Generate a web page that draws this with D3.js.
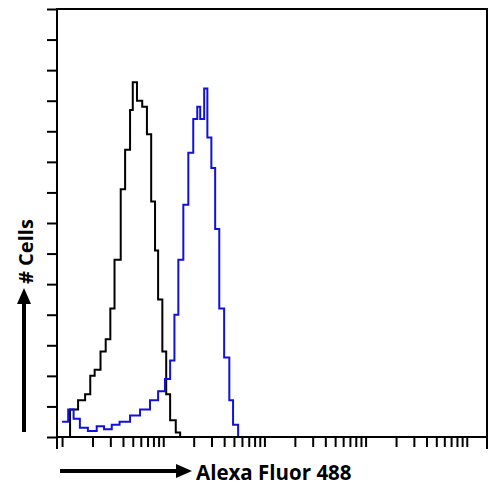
<!DOCTYPE html><html><head><meta charset="utf-8">
<script src="https://cdn.jsdelivr.net/npm/d3@7"></script>
<style>body{margin:0;background:#fff}</style></head><body><svg id="c" width="496" height="504"></svg>
<script>
const blackX=[1,1.2,1.44,1.69,1.9,2.1,2.4,2.7,3.0,3.3,3.8,4.2,4.7,5.0,5.5,6.2,6.9,7.6,8.3,8.9,9.8,10.7,11.7,13.3,14.7];
const blackY=[0,0.9,1.2,1.4,2.0,2.2,2.8,3.2,4.2,5.8,8.1,9.4,10.7,11.6,11.0,10.8,9.9,7.7,6.1,4.5,2.8,1.4,0.55,0.15,0];
const blueX=[1,1.15,1.3,1.5,1.8,2.2,2.6,3.1,3.7,4.7,5.9,7.4,8.9,10.4,11.7,12.9,14.1,15.8,17.7,19.8,21.7,23.2,25.4,27.3,29.9,32.6,35.8,40,45,49,55];
const blueY=[0.5,0.9,0.6,0.3,0.2,0.35,0.25,0.4,0.5,0.7,0.9,1.2,1.5,1.9,2.5,4.0,5.8,7.6,9.3,10.4,10.8,10.4,11.4,9.8,8.8,6.8,4.2,2.6,1.2,0.4,0];
const yTicks=d3.range(0,15);
const svg=d3.select("#c");
const x=d3.scaleLog().domain([Math.pow(10,-0.05),Math.pow(10,4.2)]).range([57,487]);
const y=d3.scaleLinear().domain([0,14]).range([437,9]);
const line=d3.line().x(d=>x(d[0])).y(d=>y(d[1])).curve(d3.curveStepAfter);
svg.append("path").datum(blackX.map((v,i)=>[v,blackY[i]])).attr("d",line).attr("fill","none").attr("stroke","#000").attr("stroke-width",2);
svg.append("path").datum(blueX.map((v,i)=>[v,blueY[i]])).attr("d",line).attr("fill","none").attr("stroke","#1010e0").attr("stroke-width",2);
svg.append("rect").attr("x",57).attr("y",9).attr("width",430).attr("height",428).attr("fill","none").attr("stroke","#000").attr("stroke-width",2);
const ya=svg.append("g").attr("transform","translate(57,0)").call(d3.axisLeft(y).tickValues(yTicks).tickSize(10).tickFormat(""));
ya.select(".domain").remove(); ya.selectAll("line").attr("stroke-width",2);
const xt=[];for(let e=0;e<4;e++)for(let m=1;m<10;m++)xt.push(m*Math.pow(10,e));xt.push(1e4);
const xa=svg.append("g").attr("transform","translate(0,437)").call(d3.axisBottom(x).tickValues(xt).tickSize(10).tickFormat(""));
xa.select(".domain").remove(); xa.selectAll("line").attr("stroke-width",2);
svg.append("line").attr("x1",57).attr("x2",57).attr("y1",437).attr("y2",449).attr("stroke","#000").attr("stroke-width",2);
svg.append("line").attr("x1",487).attr("x2",487).attr("y1",437).attr("y2",449).attr("stroke","#000").attr("stroke-width",2);
svg.append("line").attr("x1",60).attr("x2",178).attr("y1",471).attr("y2",471).attr("stroke","#000").attr("stroke-width",4);
svg.append("path").attr("d","M176,464 L192,471 L176,478 Z").attr("fill","#000");
svg.append("text").attr("x",196).attr("y",480).attr("font-family","Open Sans, sans-serif").attr("font-weight","bold").attr("font-size",20.5).text("Alexa Fluor 488");
svg.append("line").attr("x1",24).attr("x2",24).attr("y1",432).attr("y2",302).attr("stroke","#000").attr("stroke-width",4);
svg.append("path").attr("d","M17,304 L24,288 L31,304 Z").attr("fill","#000");
svg.append("text").attr("transform","translate(33,284) rotate(-90)").attr("font-family","Open Sans, sans-serif").attr("font-weight","bold").attr("font-size",20).text("# Cells");
</script></body></html>
